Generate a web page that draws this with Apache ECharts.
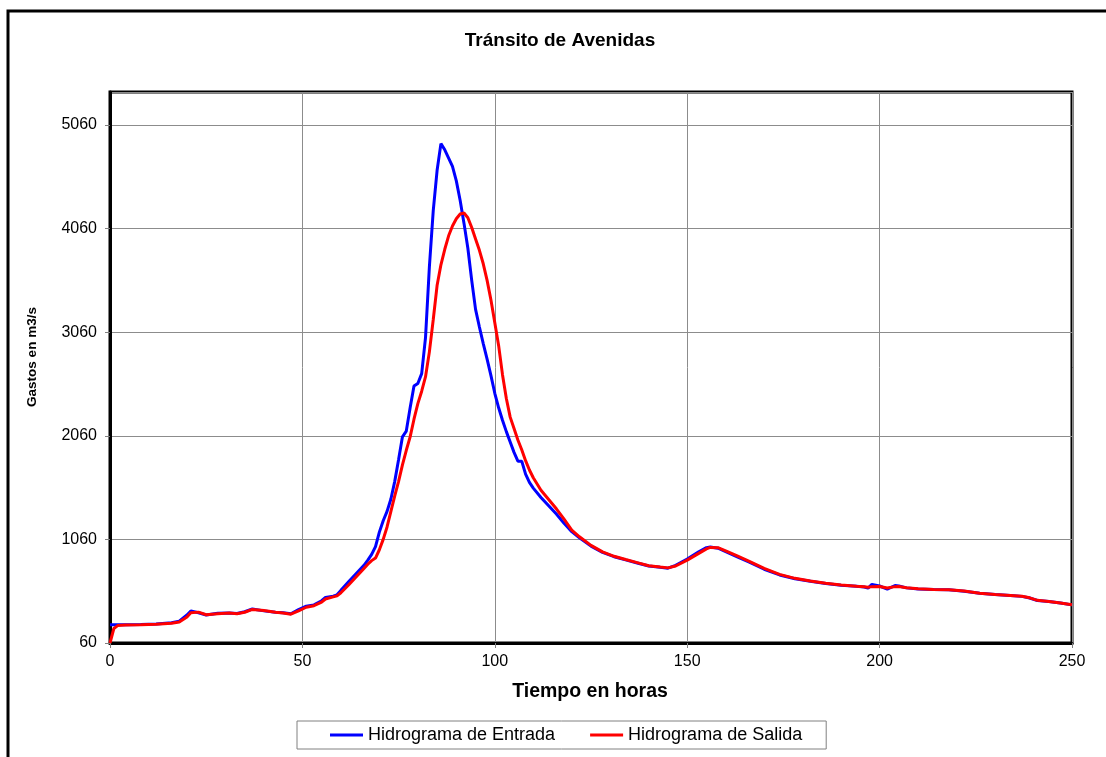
<!DOCTYPE html>
<html>
<head>
<meta charset="utf-8">
<title>Tránsito de Avenidas</title>
<script src="https://cdn.jsdelivr.net/npm/echarts@6/dist/echarts.min.js"></script>
<style>
  html, body { margin: 0; padding: 0; background: #fff; }
  #chart { width: 1106px; height: 757px; }
</style>
</head>
<body>
<div id="chart"></div>
<script>
// Flood routing: inflow vs. outflow hydrograph (hours, m3/s)
const hours = [0,1,2,4,8,12,16,18,20,21,23,25,28,31,33,35,37,40,43,45,47,49,51,53,55,56,58,59,60,62,64,66,67,68,69,70,71,72,73,74,75,76,77,78,79,80,81,82,83,84,85,86,87,88,89,90,91,92,93,94,95,96,97,98,99,100,101,102,103,104,105,106,107,108,109,110,112,114,116,118,120,122,125,128,131,134,137,140,143,145,147,150,153,155,156,158,160,163,166,170,174,178,182,186,190,194,196,197,198,200,202,204,205,207,210,214,218,222,226,230,234,237,239,241,244,247,250];

const entrada = [235,235,236,237,239,243,255,270,330,368,352,330,347,350,344,362,388,370,356,352,342,382,415,428,468,500,512,525,568,650,730,810,860,915,990,1130,1240,1330,1450,1620,1830,2050,2105,2330,2540,2565,2660,3010,3690,4230,4620,4880,4820,4740,4660,4520,4330,4110,3870,3560,3280,3110,2950,2800,2640,2470,2330,2210,2100,2000,1900,1815,1815,1690,1610,1555,1465,1385,1305,1215,1135,1075,995,935,893,862,832,803,790,782,810,870,940,980,986,975,942,892,842,772,717,680,657,634,617,607,600,590,625,610,580,615,610,592,582,576,574,560,540,527,518,510,494,470,460,446,428];

const salida = [60,200,228,234,237,241,250,262,310,352,358,333,343,349,343,357,384,373,357,350,338,370,405,420,455,485,505,515,545,620,700,780,820,855,880,960,1060,1180,1330,1480,1620,1780,1920,2050,2220,2370,2490,2630,2870,3180,3510,3710,3860,3990,4085,4155,4200,4210,4165,4070,3960,3850,3720,3560,3370,3150,2930,2650,2420,2240,2130,2020,1925,1820,1730,1655,1535,1445,1355,1255,1150,1085,1002,940,897,866,836,806,793,785,803,860,925,968,982,980,950,900,850,780,722,684,659,636,619,608,603,598,604,606,590,604,606,594,583,577,575,561,541,528,519,511,496,472,461,447,429];

const seriesNames = ['Hidrograma de Entrada', 'Hidrograma de Salida'];
const titleText = 'Tránsito de Avenidas';
const xName = 'Tiempo en horas';
const yName = 'Gastos en m3/s';

const FONT = '"Liberation Sans", Arial, sans-serif';

const pairs = (vals) => hours.map((h, i) => [h, vals[i]]);

const chart = echarts.init(document.getElementById('chart'), null, { renderer: 'canvas' });

chart.setOption({
  animation: false,
  backgroundColor: '#ffffff',
  textStyle: { fontFamily: FONT },
  graphic: [
    {
      type: 'rect',
      z: -10,
      shape: { x: 8, y: 11, width: 1200, height: 800 },
      style: { fill: null, stroke: '#000', lineWidth: 3 }
    },
    {
      type: 'text',
      x: 560, y: 41,
      style: {
        text: titleText, fontFamily: FONT, fontSize: 19, fontWeight: 'bold',
        fill: '#000', align: 'center', verticalAlign: 'middle'
      }
    },
    {
      type: 'text',
      x: 590, y: 692,
      style: {
        text: xName, fontFamily: FONT, fontSize: 19.5, fontWeight: 'bold',
        fill: '#000', align: 'center', verticalAlign: 'middle'
      }
    },
    {
      type: 'text',
      x: 32, y: 357,
      rotation: Math.PI / 2,
      style: {
        text: yName, fontFamily: FONT, fontSize: 13.5, fontWeight: 'bold',
        fill: '#000', align: 'center', verticalAlign: 'middle'
      }
    }
  ],
  grid: {
    left: 110, right: 34, top: 92, bottom: 114,
    show: true, borderColor: '#000', borderWidth: 3, backgroundColor: '#fff'
  },
  legend: {
    data: seriesNames,
    left: 297, top: 721,
    padding: [5, 24, 5, 33],
    itemGap: 35,
    itemWidth: 33, itemHeight: 3,
    icon: 'rect',
    borderColor: '#808080', borderWidth: 1,
    textStyle: { fontFamily: FONT, fontSize: 18, color: '#000' }
  },
  xAxis: {
    type: 'value',
    min: 0, max: 250, interval: 50,
    axisLine: { show: true, lineStyle: { color: '#000', width: 3 } },
    axisTick: { show: true, length: 5, lineStyle: { color: '#808080', width: 1 } },
    axisLabel: { margin: 11, fontFamily: FONT, fontSize: 16, color: '#000' },
    splitLine: { show: true, lineStyle: { color: '#8c8c8c', width: 1 } }
  },
  yAxis: {
    type: 'value',
    min: 60, max: 5378, interval: 1000,
    axisLine: { show: true, lineStyle: { color: '#000', width: 3 } },
    axisTick: { show: true, length: 5, lineStyle: { color: '#808080', width: 1 } },
    axisLabel: {
      margin: 13, fontFamily: FONT, fontSize: 16, color: '#000', showMaxLabel: false,
      formatter: (v) => String(v)
    },
    splitLine: { show: true, lineStyle: { color: '#8c8c8c', width: 1 } }
  },
  series: [
    {
      name: seriesNames[0],
      type: 'line',
      data: pairs(entrada),
      symbol: 'none',
      color: '#0000ff',
      lineStyle: { color: '#0000ff', width: 3 },
      z: 2
    },
    {
      name: seriesNames[1],
      type: 'line',
      data: pairs(salida),
      symbol: 'none',
      color: '#ff0000',
      lineStyle: { color: '#ff0000', width: 3 },
      z: 3
    }
  ]
});
</script>
</body>
</html>
